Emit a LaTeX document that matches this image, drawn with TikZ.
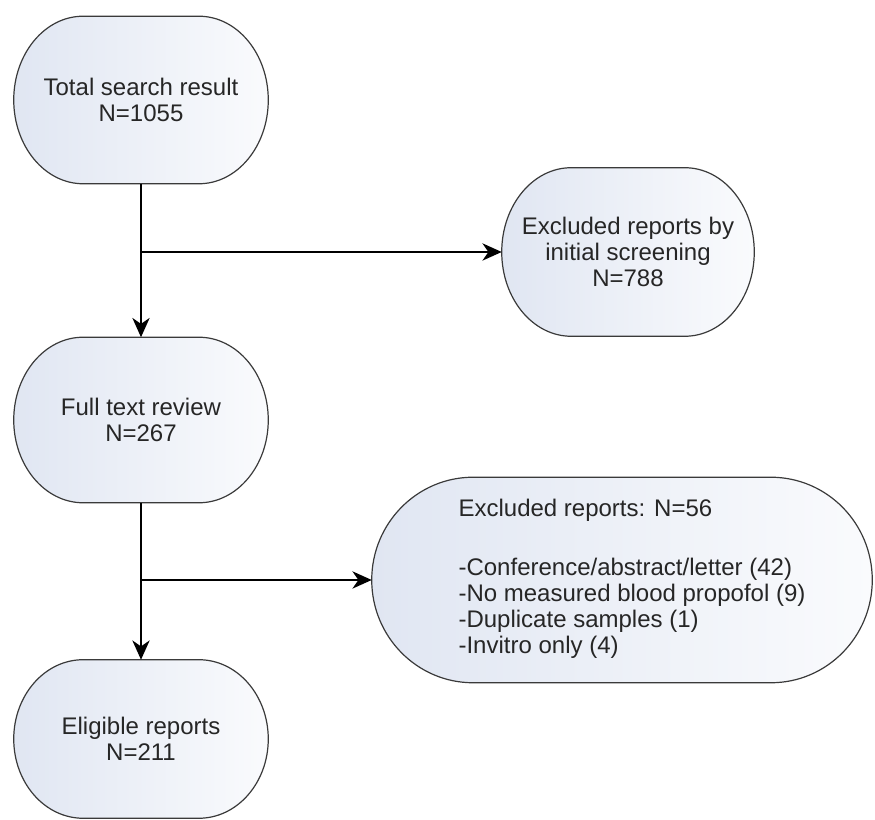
\documentclass[tikz,border=0pt]{standalone}
\usepackage{fontspec}
\setmainfont{Liberation Sans}
\usetikzlibrary{arrows.meta,calc,backgrounds}
\definecolor{fcLine}{HTML}{3A3A3A}
\definecolor{fcText}{HTML}{262626}
\definecolor{fcLeft}{HTML}{E0E6F2}
\definecolor{fcRight}{HTML}{FAFBFD}

\begin{document}
\begin{tikzpicture}[x=0.75pt, y=0.75pt,
  stadium/.style 2 args={minimum width=#1*0.75pt, minimum height=#2*0.75pt,
    inner sep=0pt, align=center, text=fcText,
    font=\fontsize{18pt}{19.5pt}\selectfont},
  flow/.style={draw=black, line width=1.1pt,
    -{Stealth[length=14.5pt, width=13pt, inset=4.5pt]}}]
  \useasboundingbox (0,0) rectangle (875,820);

  % Main column
  \node[stadium={254}{167}] (total) at (141,720) {Total search result\\N=1055};
  \node[stadium={254}{165}] (full) at (141,400) {Full text review\\N=267};
  \node[stadium={254}{158}] (elig) at (141,81) {Eligible reports\\N=211};

  % Exclusions
  \node[stadium={252}{168}] (screen) at (628,568)
    {Excluded reports by\\initial screening\\N=788};
  \node[stadium={500}{205}] (excl) at (622,240)
    {\hspace*{15pt}\begin{tabular}{@{}l@{}}
      Excluded reports: N=56\\[25pt]
      -Conference/abstract/letter (42)\\
      -No measured blood propofol (9)\\
      -Duplicate samples (1)\\
      -Invitro only (4)
    \end{tabular}};

  % Box outlines
  \begin{scope}[on background layer]
    \foreach \nd/\rx in {total/52pt, full/52pt, elig/52pt, screen/52pt, excl/76pt} {
      \draw[fcLine, line width=0.9pt, left color=fcLeft, right color=fcRight]
        let \p1=(\nd.south west), \p2=(\nd.north east), \n1={(\y2-\y1)/2} in
        (\x1+\rx,\y1) -- (\x2-\rx,\y1)
        arc[start angle=-90, end angle=90, x radius=\rx, y radius=\n1]
        -- (\x1+\rx,\y2)
        arc[start angle=90, end angle=270, x radius=\rx, y radius=\n1]
        -- cycle;
    }
  \end{scope}

  % Connectors
  \coordinate (cut1) at (total.south |- screen.west);
  \coordinate (cut2) at (full.south |- excl.west);
  \draw[flow] (total) -- (full);
  \draw[flow] (cut1) -- (screen);
  \draw[flow] (full) -- (elig);
  \draw[flow] (cut2) -- (excl);
\end{tikzpicture}
\end{document}
